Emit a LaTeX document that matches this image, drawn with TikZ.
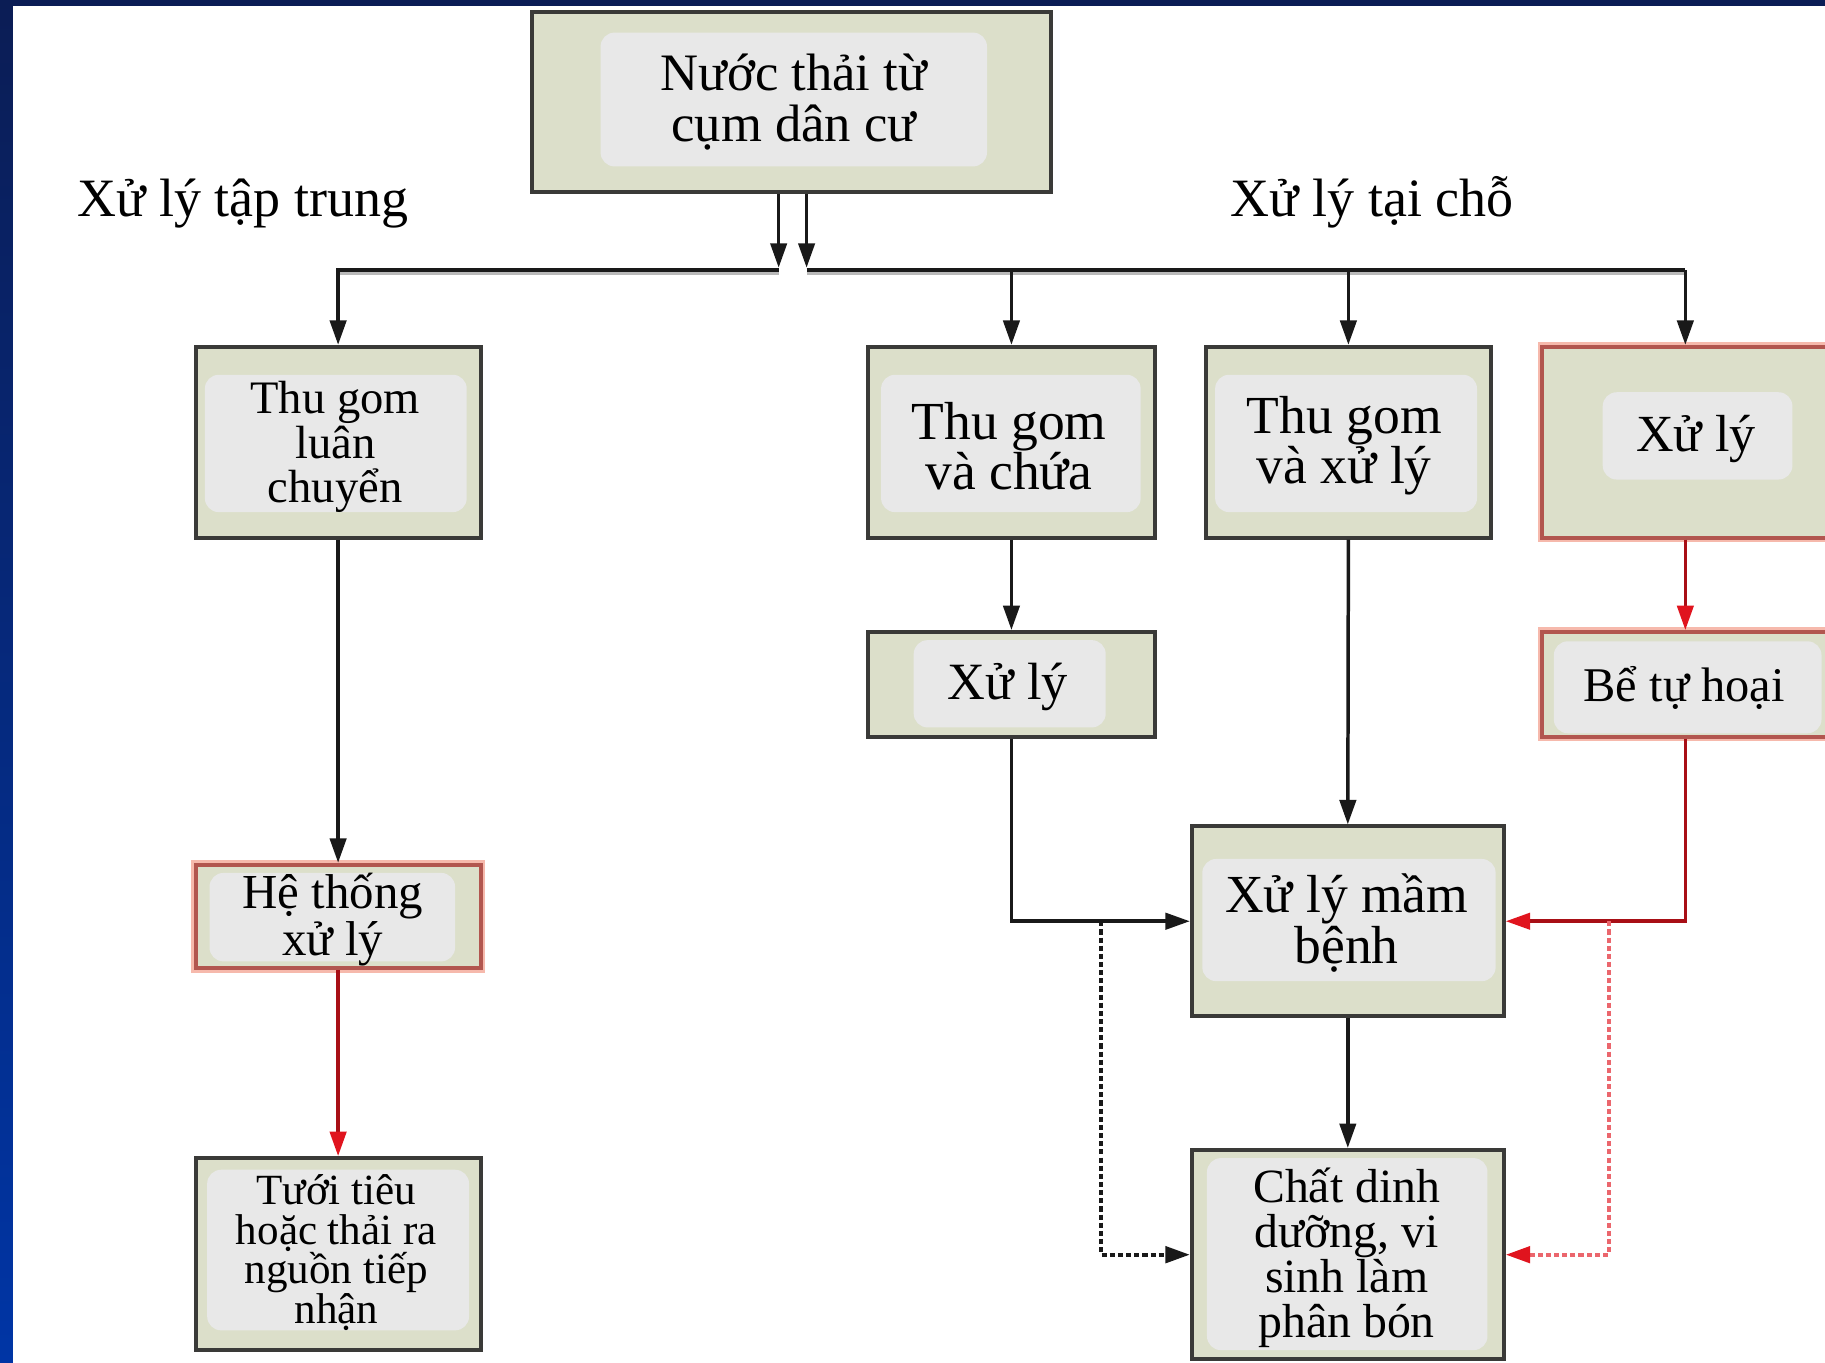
\documentclass[tikz,border=0pt]{standalone}
\usepackage{fontspec}
\setmainfont{Liberation Serif}
\usetikzlibrary{arrows.meta,fit}
\definecolor{boxfill}{HTML}{DCDFCA}
\definecolor{innerfill}{HTML}{E8E8E8}
\definecolor{boxline}{HTML}{3A3A38}
\definecolor{redline}{HTML}{B2564F}
\definecolor{pinkglow}{HTML}{F6B9AC}
\definecolor{arrred}{HTML}{E0141E}
\definecolor{navy}{HTML}{0B1D55}
\definecolor{blueband}{HTML}{0035A5}
\begin{document}
\begin{tikzpicture}[x=0.5pt,y=-0.5pt,
  outerbox/.style={draw=boxline,line width=1.7pt,fill=boxfill,inner sep=0pt,rectangle},
  redbox/.style={draw=redline,line width=1.7pt,fill=boxfill,inner sep=0pt,rectangle,
    preaction={draw=pinkglow,line width=4pt}},
  innerbox/.style={fill=innerfill,rounded corners=6pt,inner sep=0pt,draw=none,rectangle},
  txt/.style={align=center,inner sep=0pt,text=black},
  conn/.style={draw=black!90,line width=1.5pt},
  arr/.style={conn,-{Triangle[length=10.5pt,width=7pt]}},
  rconn/.style={draw=arrred!75!black,line width=1.5pt},
  rarr/.style={rconn,-{Triangle[length=10.5pt,width=7pt,color=arrred]}},
  darr/.style={arr,line width=1.7pt,dash pattern=on 2.2pt off 1.3pt},
  rdarr/.style={rarr,line width=1.7pt,draw=arrred!65!white,dash pattern=on 2.2pt off 1.3pt},
]
\clip (0,0) rectangle (1568,1171);
\useasboundingbox (0,0) rectangle (1568,1171);
\fill[white] (0,0) rectangle (1568,1171);
\shade[top color=navy,bottom color=blueband] (0,0) rectangle (11,1171);
\fill[navy] (0,0) rectangle (1568,5);

% boxes
\node[outerbox,fit={(457,10) (903,165)}] (top) {};
\node[innerbox,fit={(516,28) (848,143)}] (topi) {};
\node[txt,font=\fontsize{22.6}{22}\selectfont] (topt) at (682,88) {Nước thải từ\\cụm dân cư};

\node[outerbox,fit={(168,298) (413,462)}] (tl) {};
\node[innerbox,fit={(176,322) (401,440)}] (tli) {};
\node[txt,font=\fontsize{20}{19}\selectfont] (tlt) at (288,384) {Thu gom\\luân\\chuyển};

\node[outerbox,fit={(746,298) (992,462)}] (tc) {};
\node[innerbox,fit={(757,322) (980,440)}] (tci) {};
\node[txt,font=\fontsize{23}{21.5}\selectfont] (tct) at (867,383) {Thu gom\\và chứa};

\node[outerbox,fit={(1036,298) (1281,462)}] (tx) {};
\node[innerbox,fit={(1044,322) (1269,440)}] (txi) {};
\node[txt,font=\fontsize{23}{21.5}\selectfont] (txt1) at (1155,383) {Thu gom\\và xử lý};

\node[redbox,fit={(1325,298) (1571,462)}] (xr) {};
\node[innerbox,fit={(1377,337) (1540,412)}] (xri) {};
\node[txt,font=\fontsize{22.4}{22}\selectfont] (xrt) at (1457,377) {Xử lý};

\node[outerbox,fit={(746,543) (992,633)}] (xm) {};
\node[innerbox,fit={(785,550) (950,625)}] (xmi) {};
\node[txt,font=\fontsize{22.5}{22}\selectfont] (xmt) at (866,590) {Xử lý};

\node[redbox,fit={(1325,543) (1571,633)}] (bt) {};
\node[innerbox,fit={(1335,551) (1565,630)}] (bti) {};
\node[txt,font=\fontsize{20.8}{20}\selectfont] (btt) at (1447,591) {Bể tự hoại};

\node[redbox,fit={(168,743) (413,832)}] (ht) {};
\node[innerbox,fit={(180,750) (391,826)}] (hti) {};
\node[txt,font=\fontsize{21}{19}\selectfont] (htt) at (286,790) {Hệ thống\\xử lý};

\node[outerbox,fit={(168,995) (413,1160)}] (tt) {};
\node[innerbox,fit={(178,1005) (403,1143)}] (tti) {};
\node[txt,font=\fontsize{18.5}{17}\selectfont] (ttt) at (289,1076) {Tưới tiêu\\hoặc thải ra\\nguồn tiếp\\nhận};

\node[outerbox,fit={(1024,710) (1292,873)}] (mb) {};
\node[innerbox,fit={(1033,738) (1285,843)}] (mbi) {};
\node[txt,font=\fontsize{23}{22}\selectfont] (mbt) at (1157,793) {Xử lý mầm\\bệnh};

\node[outerbox,fit={(1024,988) (1292,1168)}] (cd) {};
\node[innerbox,fit={(1037,995) (1278,1160)}] (cdi) {};
\node[txt,font=\fontsize{20.5}{19.3}\selectfont] (cdt) at (1157,1081) {Chất dinh\\dưỡng, vi\\sinh làm\\phân bón};

% labels
\node[txt,anchor=base west,font=\fontsize{23.2}{23}\selectfont] (lab1) at (66,186) {Xử lý tập trung};
\node[txt,anchor=base west,font=\fontsize{23.2}{23}\selectfont] (lab2) at (1057,186) {Xử lý tại chỗ};

% junction coordinates
\coordinate (jl) at (669,232);
\coordinate (jr) at (693,232);
\coordinate (jlt) at (669,230);
\coordinate (jrt) at (693,230);
\coordinate (dl) at (946,0);
\coordinate (dr) at (1382,0);

% bus shadow
\draw[gray!55,line width=1.5pt] (669,235) -- (290,235);
\draw[gray!55,line width=1.5pt] (693,235) -- (1448,235);

% top arrows
\draw[arr] (top.south -| jl) -- (jlt);
\draw[arr] (top.south -| jr) -- (jrt);
\draw[arr] (jl) -- (jl -| tl.north) -- (tl.north);
\draw[conn] (jr) -- (jr -| xr.north);
\draw[arr] (jr -| tc.north) -- (tc.north);
\draw[arr] (jr -| tx.north) -- (tx.north);
\draw[arr] (jr -| xr.north) -- (xr.north);

% left column
\draw[arr] (tl.south) -- (ht.north);
\draw[rarr] (ht.south) -- (tt.north);

% middle
\draw[arr] (tc.south) -- (xm.north);
\draw[arr] (xm.south) |- (mb.west);
\draw[arr] (tx.south) -- (mb.north);
\draw[arr] (mb.south) -- (cd.north);

% right
\draw[rarr] (xr.south) -- (bt.north);
\draw[rarr] (bt.south) |- (mb.east);

% dashed
\draw[darr] (mb.west -| dl) |- (cd.west);
\draw[rdarr] (mb.east -| dr) |- (cd.east);
\end{tikzpicture}
\end{document}
